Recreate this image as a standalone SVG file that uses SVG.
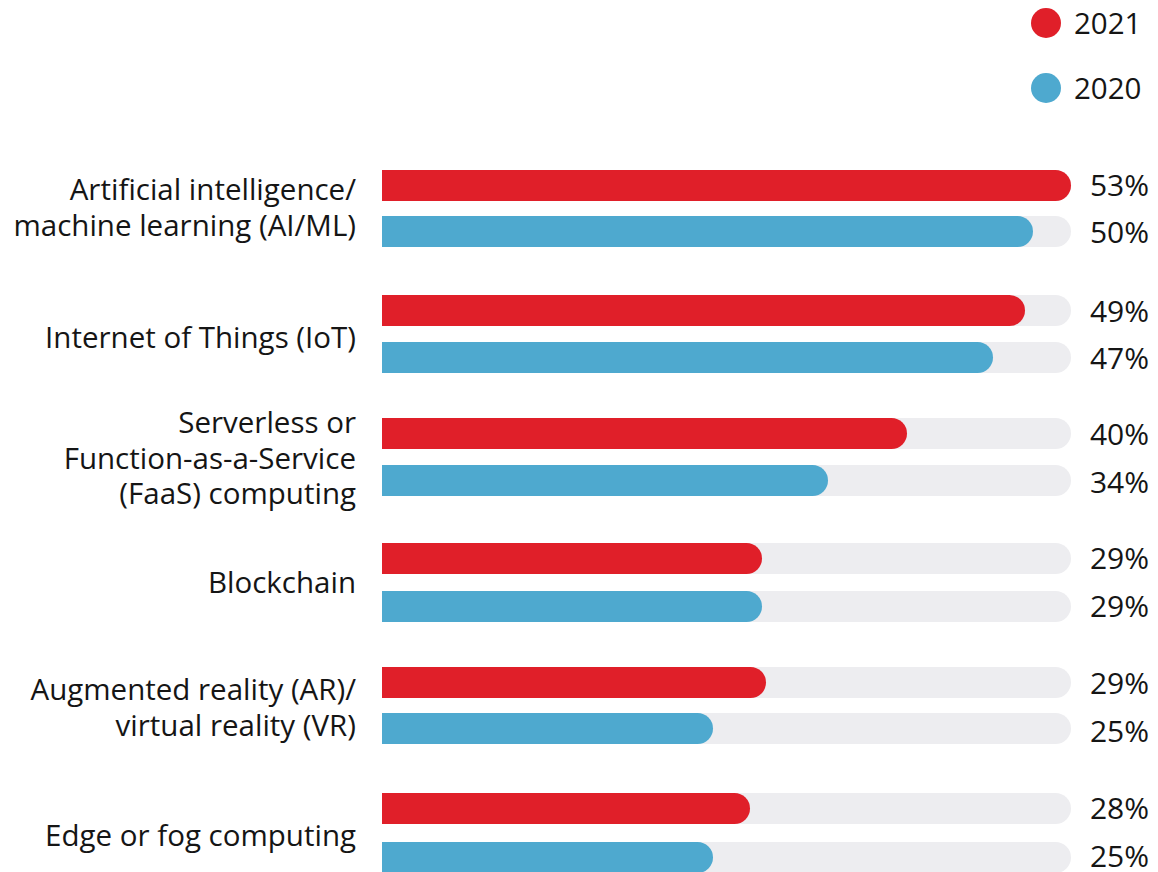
<svg xmlns="http://www.w3.org/2000/svg" width="1158" height="872" viewBox="0 0 1158 872">
<style>
.t{font-family:"Open Sans","Noto Sans",sans-serif;font-size:29.5px;fill:#151515}
.lab{text-anchor:end}
.pct{text-anchor:end;font-size:30px}
.trk{fill:#EDEDF0}
.red{fill:#E01F29}
.blue{fill:#4EA9CF}
</style>
<rect width="1158" height="872" fill="#ffffff"/>
<g id="legend">
<circle cx="1046" cy="23" r="15" class="red"/>
<text x="1074" y="34" class="t" font-size="30">2021</text>
<circle cx="1046" cy="88" r="15" class="blue"/>
<text x="1074" y="99" class="t" font-size="30">2020</text>
</g>
<g id="row-aiml">
<text class="t lab" x="356" y="200">Artificial intelligence/</text>
<text class="t lab" x="356" y="236">machine learning (AI/ML)</text>
<path class="trk" d="M382 170H1055.5a15.5 15.5 0 0 1 0 31H382Z"/>
<path class="red" d="M382 170H1055.5a15.5 15.5 0 0 1 0 31H382Z"/>
<path class="trk" d="M382 216H1055.5a15.5 15.5 0 0 1 0 31H382Z"/>
<path class="blue" d="M382 216H1017.5a15.5 15.5 0 0 1 0 31H382Z"/>
<text class="t pct" x="1149" y="196">53%</text>
<text class="t pct" x="1149" y="243">50%</text>
</g>
<g id="row-iot">
<text class="t lab" x="356" y="348">Internet of Things (IoT)</text>
<path class="trk" d="M382 295H1055.5a15.5 15.5 0 0 1 0 31H382Z"/>
<path class="red" d="M382 295H1009.5a15.5 15.5 0 0 1 0 31H382Z"/>
<path class="trk" d="M382 342H1055.5a15.5 15.5 0 0 1 0 31H382Z"/>
<path class="blue" d="M382 342H977.5a15.5 15.5 0 0 1 0 31H382Z"/>
<text class="t pct" x="1149" y="322">49%</text>
<text class="t pct" x="1149" y="369">47%</text>
</g>
<g id="row-faas">
<text class="t lab" x="356" y="433">Serverless or</text>
<text class="t lab" x="356" y="469">Function-as-a-Service</text>
<text class="t lab" x="356" y="504">(FaaS) computing</text>
<path class="trk" d="M382 418H1055.5a15.5 15.5 0 0 1 0 31H382Z"/>
<path class="red" d="M382 418H891.5a15.5 15.5 0 0 1 0 31H382Z"/>
<path class="trk" d="M382 465H1055.5a15.5 15.5 0 0 1 0 31H382Z"/>
<path class="blue" d="M382 465H812.5a15.5 15.5 0 0 1 0 31H382Z"/>
<text class="t pct" x="1149" y="445">40%</text>
<text class="t pct" x="1149" y="493">34%</text>
</g>
<g id="row-blockchain">
<text class="t lab" x="356" y="593">Blockchain</text>
<path class="trk" d="M382 543H1055.5a15.5 15.5 0 0 1 0 31H382Z"/>
<path class="red" d="M382 543H746.5a15.5 15.5 0 0 1 0 31H382Z"/>
<path class="trk" d="M382 591H1055.5a15.5 15.5 0 0 1 0 31H382Z"/>
<path class="blue" d="M382 591H746.5a15.5 15.5 0 0 1 0 31H382Z"/>
<text class="t pct" x="1149" y="569">29%</text>
<text class="t pct" x="1149" y="617">29%</text>
</g>
<g id="row-arvr">
<text class="t lab" x="356" y="700">Augmented reality (AR)/</text>
<text class="t lab" x="356" y="736">virtual reality (VR)</text>
<path class="trk" d="M382 667H1055.5a15.5 15.5 0 0 1 0 31H382Z"/>
<path class="red" d="M382 667H750.5a15.5 15.5 0 0 1 0 31H382Z"/>
<path class="trk" d="M382 713H1055.5a15.5 15.5 0 0 1 0 31H382Z"/>
<path class="blue" d="M382 713H697.5a15.5 15.5 0 0 1 0 31H382Z"/>
<text class="t pct" x="1149" y="694">29%</text>
<text class="t pct" x="1149" y="742">25%</text>
</g>
<g id="row-edge">
<text class="t lab" x="356" y="846">Edge or fog computing</text>
<path class="trk" d="M382 793H1055.5a15.5 15.5 0 0 1 0 31H382Z"/>
<path class="red" d="M382 793H734.5a15.5 15.5 0 0 1 0 31H382Z"/>
<path class="trk" d="M382 842H1055.5a15.5 15.5 0 0 1 0 31H382Z"/>
<path class="blue" d="M382 842H697.5a15.5 15.5 0 0 1 0 31H382Z"/>
<text class="t pct" x="1149" y="819">28%</text>
<text class="t pct" x="1149" y="867">25%</text>
</g>
<g id="connectors"/>
</svg>
